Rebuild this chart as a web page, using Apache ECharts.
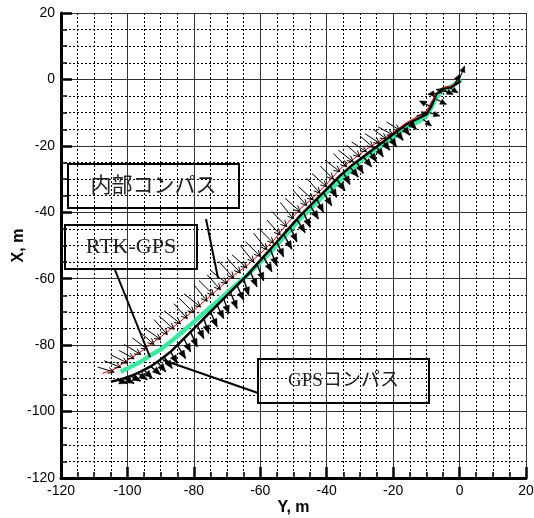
<!DOCTYPE html>
<html><head><meta charset="utf-8">
<script src="https://cdn.jsdelivr.net/npm/echarts@6/dist/echarts.min.js"></script>
<style>html,body{margin:0;padding:0;background:#fff}#c{width:534px;height:518px}</style>
</head><body><div id="c"></div>
<script>
// Axis ticks
const axisMin = -120, axisMax = 20, axisStep = 20;
// Paths: [Y, X]
const internalCompass = [[-107.5,-88.5],[-104,-87.3],[-100,-84.6],[-96,-82],[-92,-79],[-88,-76],[-84,-72.8],[-80,-69.5],[-76,-66],[-72,-62.5],[-68,-59],[-64,-56],[-60,-52.5],[-56,-48.5],[-52,-43.5],[-48,-39],[-44,-35.5],[-40,-31.5],[-36,-27],[-32,-24],[-28,-21],[-24,-18.5],[-20,-16],[-16,-13],[-12,-10.8],[-10,-9.5],[-8.5,-6.8],[-6.8,-4.2],[-4.8,-2.4],[-2.5,-2],[-0.5,-0.5]];
const rtkGps = [[-102,-88],[-99,-86.5],[-96,-85],[-93,-83],[-90,-81.3],[-87,-79],[-84,-76.5],[-80,-73],[-76,-69.5],[-72,-66],[-68,-62.5],[-64,-59],[-60,-55],[-56,-51],[-52,-46.5],[-48,-42],[-44,-38],[-40,-34],[-36,-30.5],[-32,-26.5],[-28,-23],[-24,-20.3],[-20,-17.5],[-16,-14.5],[-12,-12.5],[-10,-11],[-8.5,-8.5],[-7,-5.5],[-5,-3],[-2.5,-2.2],[0.5,0]];
const gpsCompass = [[-105,-91],[-102,-90.3],[-99,-89.3],[-96,-88],[-93,-86.4],[-90,-84.3],[-87,-82],[-84,-79],[-80,-75],[-76,-71],[-72,-67],[-68,-63],[-64,-59],[-60,-54.5],[-56,-50],[-52,-45.5],[-48,-41],[-44,-37],[-40,-33],[-36,-29],[-32,-25.5],[-28,-22.5],[-24,-19.5],[-20,-16.5],[-16,-13.5],[-12,-11.5],[-10,-10.5],[-8.5,-8],[-7,-4.5],[-5,-2.8],[-2.5,-2.3],[0.3,-0.5]];
// Heading arrows: [tailY, tailX, dY, dX]
const internalArrows = [[-109,-86.6,5,-1.5],[-107,-84.7,5,-2],[-105,-82.9,5,-2.5],[-102.5,-81.6,4.5,-2.5],[-101,-79.8,5,-3],[-98.5,-77.8,4.5,-3.5],[-96.5,-75.8,4.5,-4],[-95,-74.8,5,-3.5],[-92,-72.3,4,-4.5],[-90.5,-71.2,4.5,-4],[-89,-69.6,5,-4],[-86,-67.5,4,-4.5],[-84.5,-65.8,4.5,-4.5],[-83,-64.5,5,-4],[-80,-61.8,4,-5],[-78.5,-60.5,4.5,-4.5],[-76,-58.8,4,-4.5],[-75,-57.5,5,-4],[-72.5,-54.8,4.5,-5],[-70,-53.8,4,-4.5],[-68.5,-52.8,4.5,-4],[-66,-50,4,-5],[-64.5,-48.8,4.5,-4.5],[-62,-46.3,4,-5],[-60.5,-44.8,4.5,-4.5],[-58,-42.3,4,-4.5],[-56.5,-39.8,4.5,-4.5],[-54,-37,4,-5],[-52.5,-35.8,4.5,-4],[-50,-33.5,4,-4.5],[-48.5,-32.3,4.5,-4],[-46,-29.8,4,-4.5],[-44.5,-28.3,4.5,-4],[-42,-26,4,-4],[-40.5,-24.3,4.5,-3.5],[-38,-22.3,4,-4],[-36.5,-21.3,4.5,-3.5],[-34,-19.8,4,-3.5],[-32.5,-18.8,4.5,-3],[-30,-17,4,-3.5],[-28.5,-16.3,4.5,-3],[-26,-15,4,-3],[-24.5,-14.3,4.5,-2.5],[-22,-12.8,4,-2.5]];
const gpsArrows = [[-103,-90.5,3,-1],[-101,-90,3,-1.5],[-99,-89.3,3,-1.5],[-97,-88.4,3,-2],[-95,-87.5,2.5,-2.5],[-93,-86.4,3,-2.5],[-91,-85,2.5,-3],[-89,-83.5,2.5,-3.5],[-87,-82,2,-3.5],[-85,-80,2.5,-4],[-83,-78,2,-4],[-81,-76,2,-4.5],[-79,-74,2,-4],[-77,-72,1.5,-4.5],[-75,-70,2,-4.5],[-73,-68,2,-4],[-71,-66,1.5,-4.5],[-69,-64,2,-5],[-67,-62,2,-4.5],[-65,-60,1.5,-5],[-63,-57.9,2,-4.5],[-61,-55.6,2,-5],[-59,-53.4,2.5,-4.5],[-57,-51.1,2,-5],[-55,-48.9,2,-4.5],[-53,-46.6,2.5,-4.5],[-51,-44.4,2,-4.5],[-49,-42.1,2.5,-4],[-47,-40,2,-4.5],[-45,-38,2.5,-4],[-43,-36,2,-4],[-41,-34,2.5,-4],[-39,-32,2,-3.5],[-37,-30,2.5,-3.5],[-35,-28.1,2,-3.5],[-33,-26.4,2.5,-3],[-31,-24.8,2,-3.5],[-29,-23.3,2.5,-3],[-27,-21.8,2,-3],[-25,-20.3,2,-3],[-23,-18.8,2,-2.5],[-21,-17.3,2,-3],[-19,-15.8,2,-2.5],[-17,-14.3,2,-2.5],[-15,-13,2,-2]];
const endArrows = [[-13,-11,3.5,1],[-11,-12,2.5,-2],[-9,-8,-3,1.5],[-9,-10,3,-1],[-7,-6,3,-1.5],[-6,-4,-3.5,-0.5],[-5,-3,3,-1.5],[-3,-2.5,2.5,-1.5],[-1.5,-1.5,1.5,3],[-0.5,-1,2,5],[-3,-4,-4,1]];

function arrowRenderer(headLen, headW, lw, filled) {
  return function (params, api) {
    const y0 = api.value(0), x0 = api.value(1), dy = api.value(2), dx = api.value(3);
    const p0 = api.coord([y0, x0]);
    const p1 = api.coord([y0 + dy, x0 + dx]);
    const a = Math.atan2(p1[1] - p0[1], p1[0] - p0[0]);
    const bx = p1[0] - headLen * Math.cos(a), by = p1[1] - headLen * Math.sin(a);
    const nx = -Math.sin(a) * headW, ny = Math.cos(a) * headW;
    const children = [{type: 'line', shape: {x1: p0[0], y1: p0[1], x2: p1[0], y2: p1[1]}, style: {stroke: '#000', lineWidth: lw}}];
    if (filled) {
      children.push({type: 'polygon', shape: {points: [p1, [bx + nx, by + ny], [bx - nx, by - ny]]}, style: {fill: '#000', stroke: '#000', lineWidth: 0.5}});
    } else {
      children.push({type: 'polyline', shape: {points: [[bx + nx, by + ny], p1, [bx - nx, by - ny]]}, style: {stroke: '#000', lineWidth: lw, fill: null}});
    }
    return {type: 'group', children: children};
  };
}

const axisCommon = {
  type: 'value', min: axisMin, max: axisMax, interval: axisStep,
  axisLine: {show: true, onZero: false, lineStyle: {color: '#000', width: 3}},
  axisTick: {show: true, inside: true, length: 11, lineStyle: {color: '#000', width: 2.5}},
  minorTick: {show: true, splitNumber: 4, length: 6, lineStyle: {color: '#000', width: 1.5}},
  axisLabel: {color: '#000', fontSize: 14, fontFamily: 'Liberation Sans, Arial', margin: 6},
  splitLine: {show: true, lineStyle: {color: '#333', width: 1}},
  minorSplitLine: {show: true, lineStyle: {color: '#000', width: 1, type: [2, 2]}},
  nameLocation: 'middle',
  nameMoveOverlap: false,
  nameTextStyle: {color: '#000', fontSize: 16, fontWeight: 'bold', fontFamily: 'Liberation Sans, Arial'}
};

const annFont = "'Liberation Serif', 'Noto Sans CJK JP', serif";
function box(x, y, w, h, text, fs) {
  return [
    {type: 'rect', shape: {x: x, y: y, width: w, height: h}, style: {fill: null, stroke: '#000', lineWidth: 2}, z: 100},
    {type: 'text', x: x + w / 2, y: y + h / 2, style: {text: text, fill: '#222', font: fs + 'px ' + annFont, align: 'center', verticalAlign: 'middle'}, z: 100}
  ];
}
function leader(x1, y1, x2, y2) {
  return {type: 'line', shape: {x1: x1, y1: y1, x2: x2, y2: y2}, style: {stroke: '#000', lineWidth: 2}, z: 100};
}

const chart = echarts.init(document.getElementById('c'));
chart.setOption({
  animation: false,
  backgroundColor: '#fff',
  grid: {left: 61, top: 13, right: 8, bottom: 40, containLabel: false, outerBoundsMode: 'none'},
  xAxis: Object.assign({}, axisCommon, {name: 'Y, m', nameGap: 22}),
  yAxis: Object.assign({}, axisCommon, {name: 'X, m', nameGap: 34}),
  series: [
    {type: 'line', data: rtkGps, showSymbol: false, lineStyle: {color: '#3ee6a0', width: 4.5}, z: 2},
    {type: 'line', data: gpsCompass, showSymbol: false, lineStyle: {color: '#000', width: 2.5}, z: 3},
    {type: 'line', data: internalCompass, showSymbol: false, lineStyle: {color: '#e00000', width: 1}, z: 4},
    {type: 'custom', data: internalArrows, encode: {x: 0, y: 1}, renderItem: arrowRenderer(6, 3, 1, false), z: 5},
    {type: 'custom', data: gpsArrows, encode: {x: 0, y: 1}, renderItem: arrowRenderer(8, 3.3, 1.4, true), z: 5},
    {type: 'custom', data: endArrows, encode: {x: 0, y: 1}, renderItem: arrowRenderer(6, 2.8, 1.1, true), z: 5}
  ],
  graphic: [].concat(
    box(68, 164, 171, 44, '内部コンパス', 21),
    box(65, 225, 132, 44, 'RTK-GPS', 22),
    box(258, 359, 171, 44, 'GPSコンパス', 19),
    [leader(206, 219, 218, 278), leader(115, 270, 150, 357), leader(258, 393, 163, 360)]
  )
});
</script></body></html>
